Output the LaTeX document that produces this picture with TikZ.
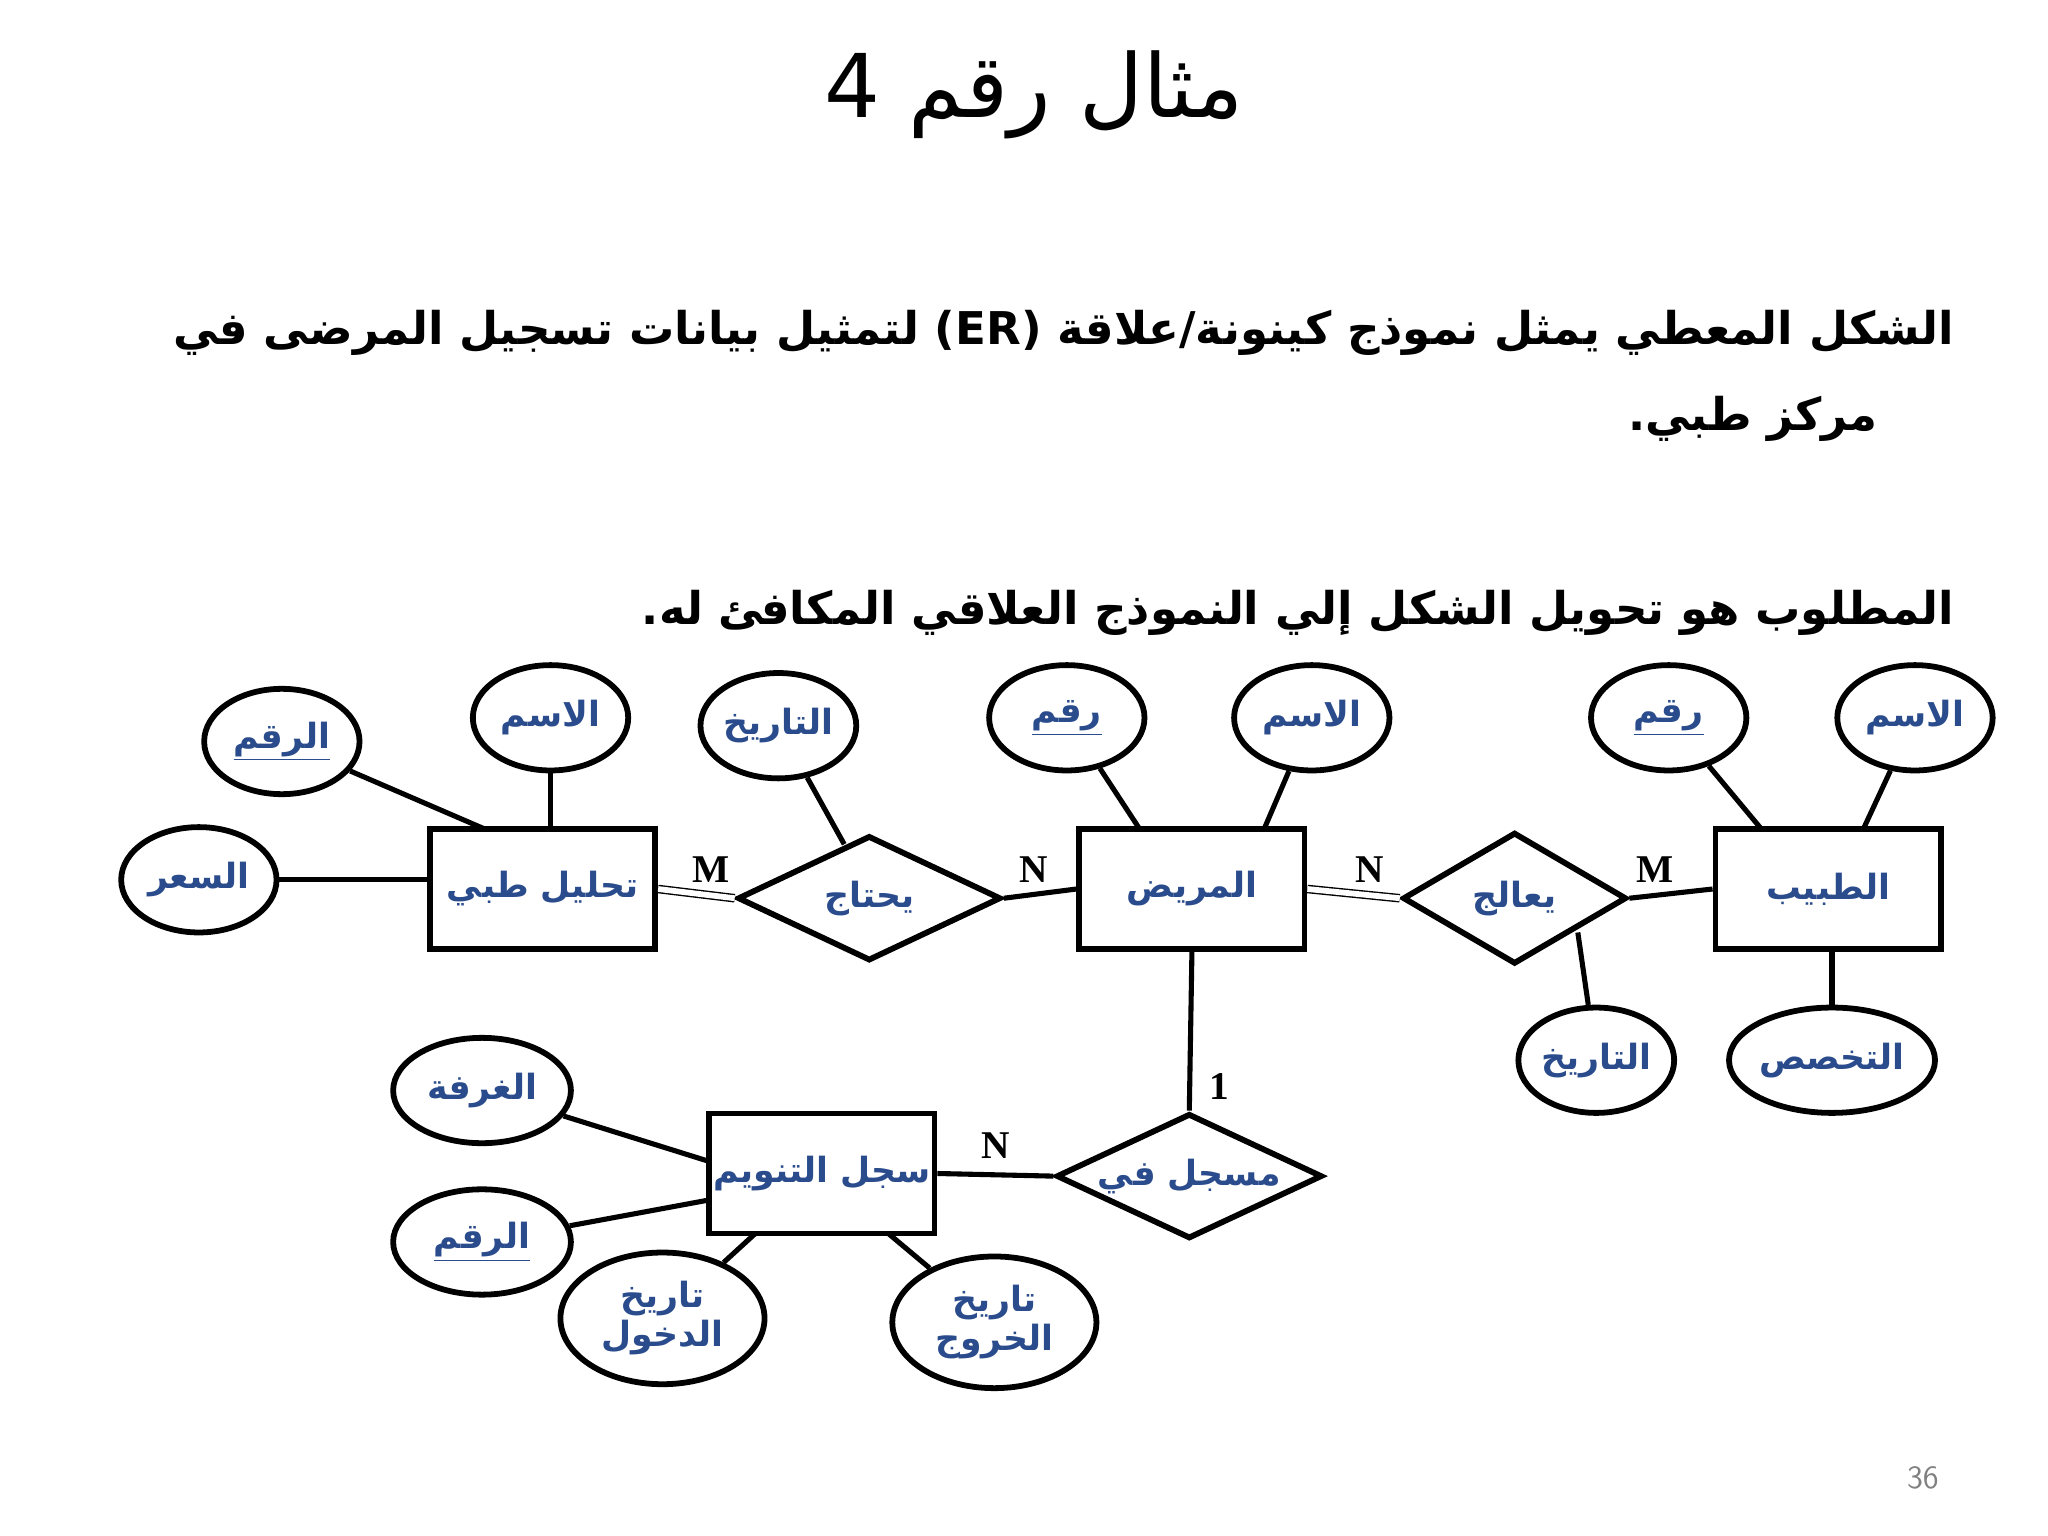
\documentclass[tikz,border=0pt]{standalone}
\usepackage{fontspec}
\setmainfont{Liberation Serif}
\newfontfamily\arabicfont[Script=Arabic]{DejaVu Sans}
\TeXXeTstate=1
\usetikzlibrary{shapes.geometric}
\definecolor{attrblue}{HTML}{2B4C8C}
\tikzset{
  ent/.style={draw,line width=2.5pt,minimum width=3.42cm,minimum height=1.82cm,inner sep=0pt,font=\arabicfont\bfseries\fontsize{15}{17}\selectfont,text=attrblue},
  rel/.style={draw,diamond,line width=2.5pt,aspect=2.1,inner sep=0pt,font=\arabicfont\bfseries\fontsize{15}{17}\selectfont,text=attrblue},
  attr/.style={draw,ellipse,line width=2.5pt,minimum width=2.36cm,minimum height=1.6cm,inner sep=0pt,font=\arabicfont\bfseries\fontsize{15}{17}\selectfont,text=attrblue,align=center},
  con/.style={line width=2.2pt},
  dcon/.style={line width=0.6pt,double,double distance=2.5pt},
  card/.style={font=\bfseries\fontsize{17}{20}\selectfont}
}
\newcommand{\ar}[1]{\beginR #1\endR}
\begin{document}
\begin{tikzpicture}[x={(0.02cm,0)},y={(0,-0.02cm)}]
\useasboundingbox (0,0) rectangle (1555,1166);
% title and text
\node[font=\arabicfont\fontsize{38}{42}\selectfont] (title) at (785,72) {\beginR مثال رقم \beginL 4\endL\endR};
\node[font=\arabicfont\bfseries\fontsize{19.5}{24}\selectfont,anchor=east] (l1) at (1490,253) {\beginR الشكل المعطي يمثل نموذج كينونة/علاقة \beginL(ER)\endL{} لتمثيل بيانات تسجيل المرضى في\endR};
\node[font=\arabicfont\bfseries\fontsize{19.5}{24}\selectfont,anchor=east] (l2) at (1432,318) {\beginR مركز طبي.\endR};
\node[font=\arabicfont\bfseries\fontsize{19.5}{24}\selectfont,anchor=east] (l3) at (1490,465) {\beginR المطلوب هو تحويل الشكل إلي النموذج العلاقي المكافئ له.\endR};
\node[text=gray,font=\fontsize{14}{16}\selectfont\sffamily] (pg) at (1460,1122) {36};
% entities
\node[ent] (lab) at (412,675) {\ar{تحليل طبي}};
\node[ent] (pat) at (905,675) {\ar{المريض}};
\node[ent] (doc) at (1388,675) {\ar{الطبيب}};
\node[ent] (adm) at (624,891) {\ar{سجل التنويم}};
% relations
\node[rel,minimum width=4cm,minimum height=1.9cm] (need) at (660,682) {\ar{يحتاج}};
\node[rel,minimum width=3.4cm,minimum height=2cm] (treat) at (1150,682) {\ar{يعالج}};
\node[rel,minimum width=4.04cm,minimum height=1.9cm] (reg) at (903,893) {\ar{مسجل في}};
% attributes
\node[attr] (a1) at (214,563) {\underline{\ar{الرقم}}};
\node[attr] (a2) at (418,545) {\ar{الاسم}};
\node[attr] (a3) at (151,668) {\ar{السعر}};
\node[attr] (a4) at (591,551) {\ar{التاريخ}};
\node[attr] (a5) at (810,545) {\underline{\ar{رقم}}};
\node[attr] (a6) at (996,545) {\ar{الاسم}};
\node[attr] (a7) at (1267,545) {\underline{\ar{رقم}}};
\node[attr] (a8) at (1454,545) {\ar{الاسم}};
\node[attr] (a9) at (1212,805) {\ar{التاريخ}};
\node[attr] (a10) at (1391,805) {\ar{التخصص}};
\node[attr,minimum width=2.7cm] (a11) at (366,828) {\ar{الغرفة}};
\node[attr,minimum width=2.7cm] (a12) at (366,943) {\underline{\ar{الرقم}}};
\node[attr,minimum width=3.1cm,minimum height=2cm] (a13) at (503,1001) {\ar{تاريخ}\\\ar{الدخول}};
\node[attr,minimum width=3.1cm,minimum height=2cm] (a14) at (755,1004) {\ar{تاريخ}\\\ar{الخروج}};
% endpoints
\coordinate (p1) at (367,629);
\coordinate (p2) at (418,629);
\coordinate (p3) at (327,668);
\coordinate (p4) at (641,641);
\coordinate (p5) at (865,629);
\coordinate (p6) at (960,629);
\coordinate (p7) at (1337,629);
\coordinate (p8) at (1415,629);
\coordinate (p9) at (1198,708);
\coordinate (p10) at (1391,720);
\coordinate (p11) at (539,882);
\coordinate (p12) at (539,911);
\coordinate (p13) at (573,937);
\coordinate (p14) at (675,937);
\foreach \a/\p in {a1/p1,a2/p2,a3/p3,a4/p4,a5/p5,a6/p6,a7/p7,a8/p8,a9/p9,a10/p10,a11/p11,a12/p12,a13/p13,a14/p14}
  \draw[con] (\a) -- (\p);
% relationships
\draw[dcon] (lab.east) -- (need.west);
\draw[con] (need.east) -- (pat.west);
\draw[dcon] (pat.east) -- (treat.west);
\draw[con] (treat.east) -- (doc.west);
\draw[con] (pat.south) -- (reg.north);
\draw[con] (reg.west) -- (adm.east);
\node[card] (c1) at (540,660) {M};
\node[card] (c2) at (785,660) {N};
\node[card] (c3) at (1040,660) {N};
\node[card] (c4) at (1257,660) {M};
\node[card] (c5) at (926,825) {1};
\node[card] (c6) at (756,870) {N};
\end{tikzpicture}
\end{document}
